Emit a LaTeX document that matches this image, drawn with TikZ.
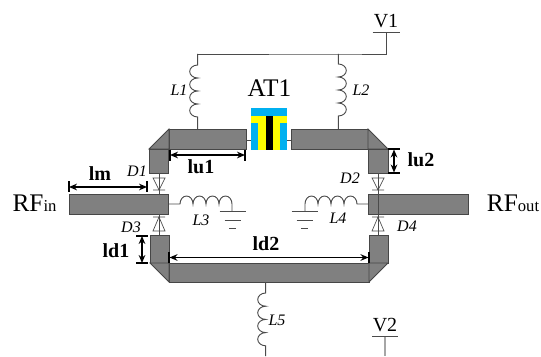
\documentclass[tikz,border=0pt]{standalone}
\usepackage{fontspec}
\setmainfont{Liberation Serif}
\usetikzlibrary{arrows.meta}

\definecolor{stripgray}{RGB}{128,128,128}
\definecolor{stripedge}{RGB}{70,70,70}
\definecolor{wiregray}{RGB}{75,75,75}
\definecolor{atcyan}{RGB}{0,176,240}
\definecolor{atyellow}{RGB}{255,255,0}

\tikzset{every picture/.style={line width=0.75pt}}
\tikzset{
  strip/.style={fill=stripgray,draw=stripedge,line width=0.6pt},
  wire/.style={draw=wiregray,line width=0.7pt},
  dimline/.style={line width=1.3pt,{Stealth[length=6pt,width=5pt]}-{Stealth[length=6pt,width=5pt]}},
  dimtick/.style={line width=0.9pt},
  coillabel/.style={font=\fontsize{12}{14}\itshape\selectfont,inner sep=0pt},
  dimlabel/.style={font=\fontsize{15}{17}\bfseries\selectfont,inner sep=0pt},
  portlabel/.style={font=\fontsize{15}{17}\selectfont,inner sep=0pt},
  rflabel/.style={font=\fontsize{19}{21}\selectfont,inner sep=0pt},
  diodedn/.pic={\draw[wire,line width=0.5pt] (-6,12) -- (6,12) -- (0,0) -- cycle (-6,0) -- (6,0);},
  diodeup/.pic={\draw[wire,line width=0.5pt] (-6,-14) -- (6,-14) -- (0,0) -- cycle (-6,0) -- (6,0);},
  earth/.pic={\draw[wire] (-13,0) -- (13,0) (-8,-9) -- (8,-9) (-3.5,-17) -- (3.5,-17);}
}

\begin{document}
\begin{tikzpicture}[x=0.75pt,y=0.75pt,yscale=-1,xscale=1]
	\useasboundingbox (0,0) rectangle (541,356);

	%Named points on the strips and the supply rail
	\coordinate (railL) at (197.7,54);
	\coordinate (railM) at (338.3,54);
	\coordinate (railR) at (386.7,54);
	\coordinate (vOne) at (386.7,32.5);
	\coordinate (vTwo) at (385,336);
	\coordinate (vTwoEnd) at (385,356);
	\coordinate (padL) at (197.7,129);
	\coordinate (padR) at (338.3,129);
	\coordinate (padB) at (265.7,282);
	\coordinate (padBEnd) at (265.7,356);
	\coordinate (atL) at (250.5,140);
	\coordinate (atR) at (287,140);
	\coordinate (upL) at (246,140);
	\coordinate (upR) at (291,140);

	%Microstrip, upper left
	\draw [strip] (169,129) rectangle (246,149);
	\draw [strip] (149,149) -- (169,129) -- (169,149) -- cycle;
	\draw [strip] (149,149) rectangle (168,173);
	%Microstrip, upper right
	\draw [strip] (291,129) rectangle (368,149);
	\draw [strip] (368,129) -- (388,149) -- (368,149) -- cycle;
	\draw [strip] (368,149) rectangle (388,173);
	%Microstrip, input and output
	\draw [strip] (69,194) rectangle (168,214);
	\draw [strip] (368,194) rectangle (468,214);
	%Microstrip, lower
	\draw [strip] (150,235) rectangle (169,263);
	\draw [strip] (369,235) rectangle (388,263);
	\draw [strip] (169,263) rectangle (369,282);
	\draw [strip] (150,263) -- (169,263) -- (169,282) -- cycle;
	\draw [strip] (388,263) -- (369,263) -- (369,282) -- cycle;

	%Attenuator cell
	\fill [atcyan] (250.5,108) rectangle (287,149.5);
	\fill [atyellow] (250.5,116) rectangle (287,123);
	\fill [atyellow] (258,116) rectangle (280,149.5);
	\fill [black] (266,116.5) rectangle (273,149.5);
	\draw [wire] (upL) -- (atL);
	\draw [wire] (atR) -- (upR);

	%Supply rail
	\draw [wire] (vOne) -- (railR) -- (railM) -- (railL);
	\draw [wire] (372.7,32.5) -- (400,32.5);
	\draw [line width=1pt,draw=gray!70] (vTwo) -- (vTwoEnd);
	\draw [wire] (372,336) -- (398,336);

	%L1
	\draw [wire] (railL) -- (197.7,65) arc (-90:-270:8 and 6.5) arc (-90:-270:8 and 6.5) arc (-90:-270:8 and 6.5) arc (-90:-270:8 and 6.5) -- (padL);
	%L2
	\draw [wire] (railM) -- (338.3,64) arc (-90:90:8 and 6.5) arc (-90:90:8 and 6.5) arc (-90:90:8 and 6.5) arc (-90:90:8 and 6.5) -- (padR);
	%L3
	\draw [wire] (168,204) -- (180,204) arc (180:360:6.5 and 8) arc (180:360:6.5 and 8) arc (180:360:6.5 and 8) arc (180:360:6.5 and 8) -- (232,211);
	\pic at (232.5,211) {earth};
	%L4
	\draw [wire] (368,204) -- (357,204) arc (360:180:6.5 and 8) arc (360:180:6.5 and 8) arc (360:180:6.5 and 8) arc (360:180:6.5 and 8) -- (305,211);
	\pic at (304.5,211) {earth};
	%L5
	\draw [wire] (padB) -- (265.7,293) arc (-90:-270:8 and 6.6) arc (-90:-270:8 and 6.6) arc (-90:-270:8 and 6.6) arc (-90:-270:8 and 6.6) -- (padBEnd);

	%Diodes
	\draw [wire] (159,173) -- (159,194);
	\draw [wire] (159,214) -- (159,235);
	\draw [wire] (378,173) -- (378,235);
	\pic at (159,190) {diodedn};
	\pic at (378,190) {diodedn};
	\pic at (159,217) {diodeup};
	\pic at (378,217) {diodeup};

	%Dimension lines
	\draw [dimline] (69,187) -- (147,187);
	\draw [dimtick] (69,181) -- (69,192) (147,181) -- (147,192);
	\draw [dimline] (170,155) -- (245,155);
	\draw [dimtick] (170,150) -- (170,161) (245,150) -- (245,161);
	\draw [dimline] (394,149.5) -- (394,172.5);
	\draw [dimtick] (388,149) -- (400,149) (388,173) -- (400,173);
	\draw [dimline] (142,236) -- (142,263);
	\draw [dimtick] (136,236) -- (148,236) (136,263) -- (148,263);
	\draw [dimline] (169.5,257.5) -- (368.5,257.5);
	\draw [dimtick] (169,252) -- (169,263) (369,252) -- (369,263);

	% Text Node
	\node [portlabel] (labV1) at (386,21) {V1};
	% Text Node
	\node [portlabel] (labV2) at (385,325) {V2};
	% Text Node
	\node [rflabel] (labAT) at (269.5,88.5) {AT1};
	% Text Node
	\node [rflabel] (labIn) at (34.5,203) {RF{\fontsize{12.5}{14}\selectfont in}};
	% Text Node
	\node [rflabel] (labOut) at (513,203) {RF{\fontsize{12.5}{14}\selectfont out}};
	% Text Node
	\node [coillabel] (labL1) at (179,90) {L1};
	% Text Node
	\node [coillabel] (labL2) at (361,90) {L2};
	% Text Node
	\node [coillabel] (labL3) at (201,220) {L3};
	% Text Node
	\node [coillabel] (labL4) at (338,218) {L4};
	% Text Node
	\node [coillabel] (labL5) at (277,320) {L5};
	% Text Node
	\node [coillabel] (labD1) at (137,171) {D1};
	% Text Node
	\node [coillabel] (labD2) at (350,178) {D2};
	% Text Node
	\node [coillabel] (labD3) at (131,227) {D3};
	% Text Node
	\node [coillabel] (labD4) at (407,226) {D4};
	% Text Node
	\node [dimlabel] (labLm) at (100,174) {lm};
	% Text Node
	\node [dimlabel] (labLuA) at (201,167) {lu1};
	% Text Node
	\node [dimlabel] (labLuB) at (421,160) {lu2};
	% Text Node
	\node [dimlabel] (labLdA) at (116,251) {ld1};
	% Text Node
	\node [dimlabel] (labLdB) at (266,244) {ld2};

\end{tikzpicture}
\end{document}
